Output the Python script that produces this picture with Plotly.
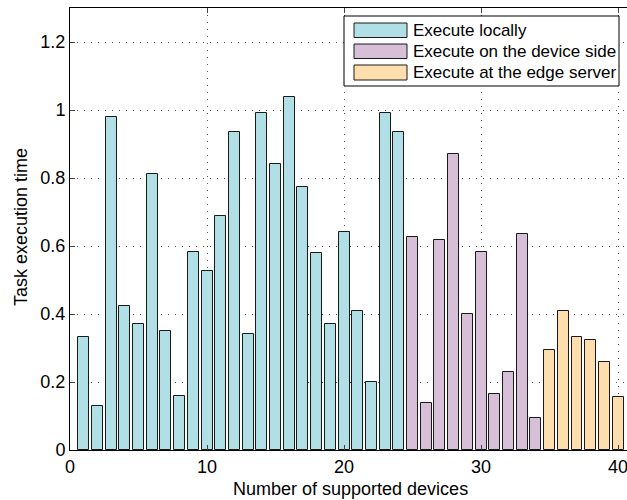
import plotly.graph_objects as go

local_x = list(range(1, 25))
local_y = [0.332, 0.128, 0.979, 0.425, 0.371, 0.811, 0.350, 0.160, 0.583, 0.526,
           0.687, 0.934, 0.340, 0.992, 0.840, 1.039, 0.774, 0.578, 0.370, 0.641,
           0.410, 0.201, 0.991, 0.934]
device_x = list(range(25, 35))
device_y = [0.627, 0.137, 0.617, 0.872, 0.399, 0.581, 0.166, 0.228, 0.635, 0.094]
edge_x = list(range(35, 41))
edge_y = [0.295, 0.410, 0.333, 0.323, 0.260, 0.156]

names = ["Execute locally", "Execute on the device side", "Execute at the edge server"]
colors = ["#b0e0e6", "#d8bfd8", "#ffdead"]
x_ticks = [0, 10, 20, 30, 40]
y_ticks = [0, 0.2, 0.4, 0.6, 0.8, 1.0, 1.2]
x_title = "Number of supported devices"
y_title = "Task execution time"

FONT = "Liberation Sans, Arial, sans-serif"

W, H = 627, 500
L, R, T, B = 70, 0, 8, 50
pw, ph = W - L - R, H - T - B

fig = go.Figure()
for xs, ys, n, c in zip([local_x, device_x, edge_x], [local_y, device_y, edge_y], names, colors):
    fig.add_trace(go.Bar(x=xs, y=ys, name=n, width=0.8, showlegend=False,
                         marker=dict(color=c, line=dict(color="#1a1a1a", width=1))))

def px2paper(px, py):
    return (px - L) / pw, (H - B - py) / ph

shapes = []
annotations = []
# legend box
x0, y0 = px2paper(344, 86)
x1, y1 = px2paper(619, 16)
shapes.append(dict(type="rect", xref="paper", yref="paper", x0=x0, y0=y0, x1=x1, y1=y1,
                   line=dict(color="black", width=1), fillcolor="white", layer="above"))
rows = [(23, 37.5), (44, 58.5), (65, 80)]
for (ra, rb), n, c in zip(rows, names, colors):
    sx0, sy0 = px2paper(354, rb)
    sx1, sy1 = px2paper(407, ra)
    shapes.append(dict(type="rect", xref="paper", yref="paper", x0=sx0, y0=sy0, x1=sx1, y1=sy1,
                       line=dict(color="#1a1a1a", width=1), fillcolor=c, layer="above"))
    tx, ty = px2paper(411, (ra + rb) / 2)
    annotations.append(dict(xref="paper", yref="paper", x=tx, y=ty, text=n, showarrow=False,
                            xanchor="left", yanchor="middle",
                            font=dict(family=FONT, size=17, color="black")))

# axis titles
tx, ty = px2paper(350, 489)
annotations.append(dict(xref="paper", yref="paper", x=tx, y=ty, text=x_title, showarrow=False,
                        xanchor="center", yanchor="middle",
                        font=dict(family=FONT, size=18, color="black")))
tx, ty = px2paper(21, 227)
annotations.append(dict(xref="paper", yref="paper", x=tx, y=ty, text=y_title, showarrow=False,
                        xanchor="center", yanchor="middle", textangle=-90,
                        font=dict(family=FONT, size=18, color="black")))

fig.update_layout(
    width=W, height=H,
    margin=dict(l=L, r=R, t=T, b=B, autoexpand=False),
    paper_bgcolor="white", plot_bgcolor="white",
    bargap=0,
    font=dict(family=FONT, size=18, color="black"),
    shapes=shapes, annotations=annotations,
    xaxis=dict(range=[0, 40.65], tickvals=x_ticks, ticks="inside", ticklen=5,
               showline=True, linecolor="black", linewidth=1, mirror="ticks",
               showgrid=True, gridcolor="#555555", griddash="1px,6px", gridwidth=1,
               zeroline=False, automargin=False, tickfont=dict(size=18),
               ticklabeloverflow="allow"),
    yaxis=dict(range=[0, 1.3], tickvals=y_ticks, ticks="inside", ticklen=5,
               showline=True, linecolor="black", linewidth=1, mirror=False,
               showgrid=True, gridcolor="#555555", griddash="1px,6px", gridwidth=1,
               zeroline=False, automargin=False, tickfont=dict(size=18)),
)

fig.write_html("out.html", config={"displayModeBar": False},
               post_script="document.body.style.margin='0';document.body.style.overflow='hidden';")
